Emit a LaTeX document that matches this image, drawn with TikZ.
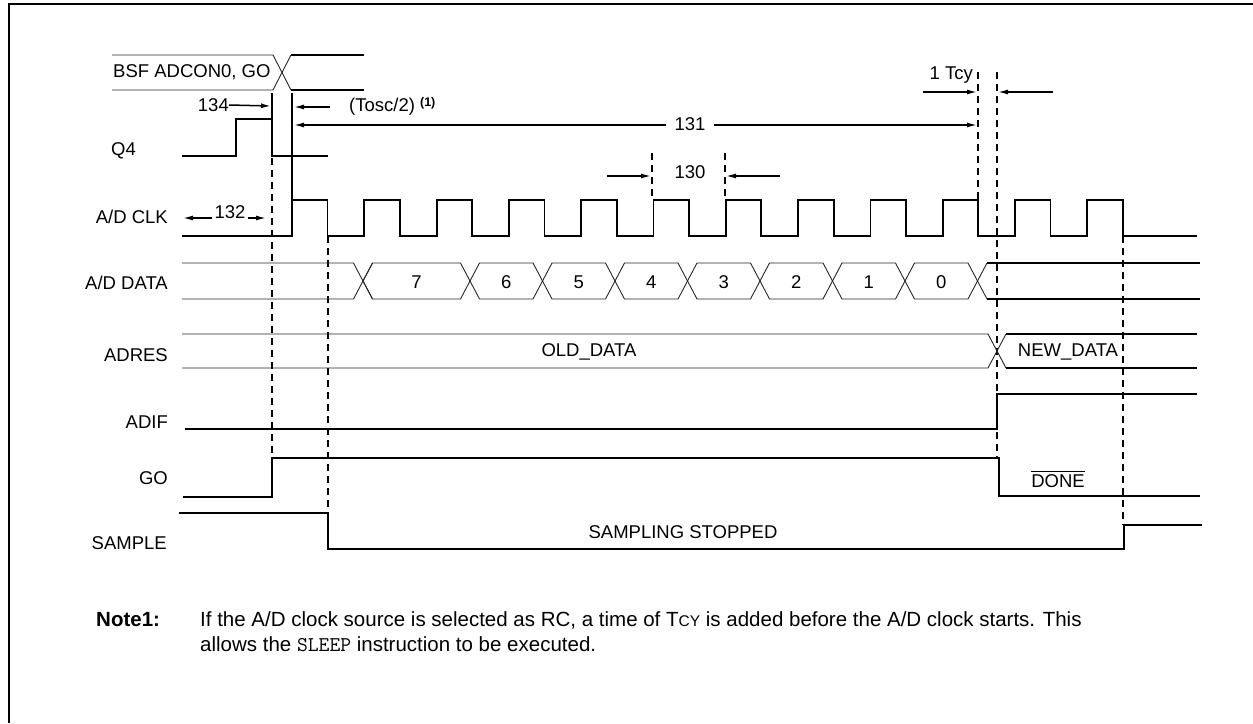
\documentclass[tikz,border=0pt]{standalone}
\usepackage{fontspec}
\setmainfont{Liberation Sans}
\usetikzlibrary{arrows.meta}
\begin{document}
\begin{tikzpicture}[x=1pt,y=-1pt,
  sig/.style={line width=1.8pt, line join=miter},
  bus/.style={line width=0.9pt, black!85},
  dsh/.style={line width=1.8pt, dash pattern=on 7pt off 5pt},
  dim/.style={line width=1.5pt, -{Latex[length=10pt,width=5pt]}},
  lbl/.style={font=\fontsize{18.5}{22}\selectfont, anchor=east, inner sep=0pt},
  txt/.style={font=\fontsize{18.5}{22}\selectfont, inner sep=0pt},
  notefont/.style={font=\fontsize{20.5}{24}\selectfont, inner sep=0pt, anchor=base west},
]
\useasboundingbox (0,0) rectangle (1253,723);
\draw[line width=2pt] (9,723) -- (9,4) -- (1253,4);

% signal labels
\node[txt, anchor=west] (lbsf) at (113,72) {BSF ADCON0, GO};
\node[lbl] (lq4)   at (136,151) {Q4};
\node[lbl] (lclk)  at (168,217) {A/D CLK};
\node[lbl] (ldata) at (168,283) {A/D DATA};
\node[lbl] (lres)  at (168,355) {ADRES};
\node[lbl] (ladif) at (168,422) {ADIF};
\node[lbl] (lgo)   at (168,478) {GO};
\node[lbl] (lsmp)  at (167,543) {SAMPLE};

% dashed guide lines
\draw[dsh] (272,158) -- (272,458);
\draw[dsh] (328,236) -- (328,513);
\draw[dsh] (652,153) -- (652,200);
\draw[dsh] (725,153) -- (725,200);
\draw[dsh] (978,72) -- (978,200);
\draw[dsh] (997,72) -- (997,458);
\draw[dsh] (1123,236) -- (1123,525);

% solid markers
\draw[sig] (272,93) -- (272,156);
\draw[sig] (292,93) -- (292,200);

% BSF bus
\draw[bus] (112,55) -- (273,55) -- (291,90);
\draw[bus] (112,90) -- (273,90) -- (291,55);
\draw[sig] (291,55) -- (364,55);
\draw[sig] (291,90) -- (364,90);

% Q4
\draw[sig] (182,156) -- (236,156) -- (236,119) -- (272,119) -- (272,156) -- (328,156);

% A/D CLK
\draw[sig] (182,236) \foreach \i in {0,...,11} { -- ({292+72.3*\i},236) -- ({292+72.3*\i},200) -- ({327.5+72.3*\i},200) -- ({327.5+72.3*\i},236) } -- (1197,236);

% A/D DATA
\draw[bus] (182,263) -- (353.5,263) -- (372.5,299);
\draw[bus] (182,299) -- (353.5,299) -- (372.5,263);
\foreach \a/\b/\t in {363/470/7, 470/542.5/6, 542.5/615/5, 615/687.5/4, 687.5/760/3, 760/832.5/2, 832.5/905/1, 905/977.5/0} {
  \draw[bus] (\a,281) -- ({\a+9.5},263) -- ({\b-9.5},263) -- (\b,281) -- ({\b-9.5},299) -- ({\a+9.5},299) -- cycle;
  \node[txt] at ({(\a+\b)/2},282) {\t};
}
\draw[bus] (987,263) -- (977.5,281) -- (987,299);
\draw[sig] (987,263) -- (1200,263);
\draw[sig] (987,299) -- (1200,299);

% ADRES
\draw[bus] (182,334) -- (988,334) -- (1006,368);
\draw[bus] (182,368) -- (988,368) -- (1006,334);
\draw[sig] (1006,334) -- (1197,334);
\draw[sig] (1006,368) -- (1197,368);
\node[txt] (old) at (589,352) {OLD\_DATA};
\node[txt] (new) at (1068,352) {NEW\_DATA};

% ADIF
\draw[sig] (185,429) -- (997,429) -- (997,394) -- (1197,394);
% GO
\draw[sig] (183,497) -- (272,497) -- (272,458) -- (999,458) -- (999,496) -- (1200,496);
\node[txt] (done) at (1058,481) {DONE};
\draw[line width=1pt] ([yshift=3pt]done.north west) -- ([yshift=3pt]done.north east);
% SAMPLE
\draw[sig] (179,513) -- (328,513) -- (328,549) -- (1124,549) -- (1124,525) -- (1202,525);
\node[txt] (stop) at (683,532) {SAMPLING STOPPED};

% dimension 134 / Tosc/2
\node[txt, anchor=east] (t134) at (229,105) {134};
\draw[dim] (t134.east) -- (271,106);
\coordinate (tosR) at (330,107);
\draw[dim] (tosR) -- (294,107);
\node[txt, anchor=west] (tosc) at (349,106) {(Tosc/2) \raisebox{5pt}{\fontsize{12.5}{12.5}\selectfont\bfseries(1)}};

% dimension 131
\node[txt] (t131) at (690,124) {131};
\draw[dim] (t131.west) ++(-8,1) -- (294,125);
\draw[dim] (t131.east) ++(8,1) -- (977,125);

% dimension 132
\node[txt] (t132) at (230,212) {132};
\draw[dim] (t132.west) ++(-2,6) -- (183,218);
\draw[dim] (t132.east) ++(2,6) -- (266,218);

% dimension 130
\node[txt] (t130) at (690,172) {130};
\coordinate (a130l) at (607,176);
\coordinate (a130r) at (780,176);
\draw[dim] (a130l) -- (651,176);
\draw[dim] (a130r) -- (726,176);

% 1 Tcy
\node[txt, anchor=east] (tcy) at (973,75) {1 Tcy};
\coordinate (tcyl) at (923,92);
\coordinate (tcyr) at (1053,92);
\draw[dim] (tcyl) -- (977,92);
\draw[dim] (tcyr) -- (998,92);

% note
\node[notefont, font=\fontsize{20.5}{24}\selectfont\bfseries] (nlab) at (96,626) {Note1:};
\node[notefont] (n1) at (200,626) {If the A/D clock source is selected as RC, a time of T{\fontsize{15.5}{15.5}\selectfont CY} is added before the A/D clock starts. This};
\node[notefont] (n2) at (200,651) {allows the {\fontsize{21}{21}\selectfont\ttfamily SLEEP} instruction to be executed.};
\end{tikzpicture}
\end{document}
